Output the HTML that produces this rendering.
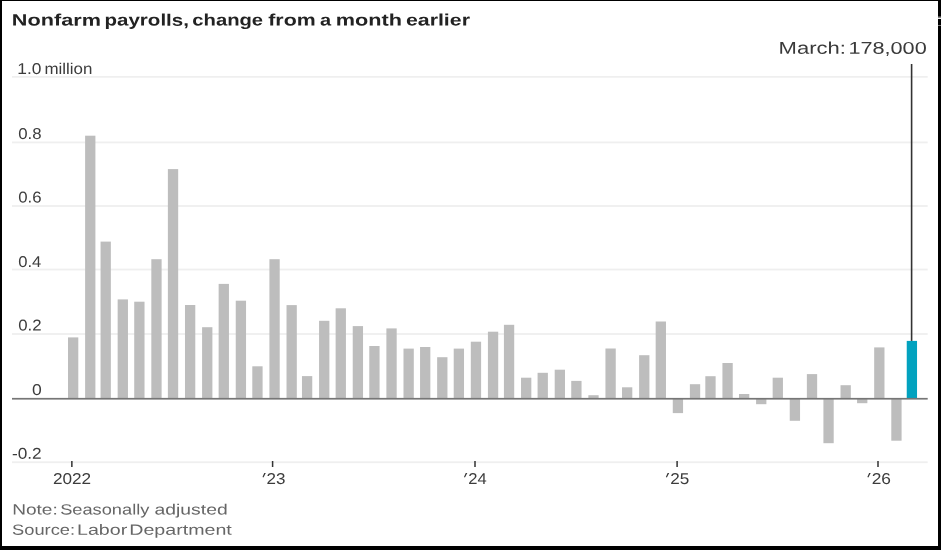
<!DOCTYPE html>
<html><head><meta charset="utf-8"><title>Nonfarm payrolls</title>
<style>
html,body{margin:0;padding:0;background:#fff;}
body{width:941px;height:550px;overflow:hidden;position:relative;font-family:"Liberation Sans",sans-serif;}
svg{position:absolute;left:0;top:0;display:block;}
.txt{will-change:transform;filter:blur(0.3px);}
text{font-family:"Liberation Sans",sans-serif;}
.ax{font-size:15.65px;fill:#3c3c3c;}
.ttl{font-size:16.5px;font-weight:bold;fill:#222;}
.ann{font-size:17px;fill:#3a3a3a;}
.fn{font-size:14.8px;fill:#666;}
</style></head>
<body>
<svg width="941" height="550" viewBox="0 0 941 550">
<rect x="0" y="0" width="941" height="550" fill="#fff"/>
<g style="filter:blur(0.3px)">
<!-- gridlines -->
<rect x="12" y="75.95" width="915.7" height="1.8" fill="#efefef"/>
<rect x="12" y="141.50" width="915.7" height="1.8" fill="#efefef"/>
<rect x="12" y="205.10" width="915.7" height="1.8" fill="#efefef"/>
<rect x="12" y="268.65" width="915.7" height="1.8" fill="#efefef"/>
<rect x="12" y="333.10" width="915.7" height="1.8" fill="#efefef"/>
<rect x="12" y="461.35" width="915.7" height="1.8" fill="#efefef"/>
<!-- bars -->
<rect x="68.00" y="337.40" width="10.3" height="61.30" fill="#bdbdbd"/>
<rect x="85.11" y="135.70" width="10.3" height="263.00" fill="#bdbdbd"/>
<rect x="100.56" y="241.60" width="10.3" height="157.10" fill="#bdbdbd"/>
<rect x="117.66" y="299.40" width="10.3" height="99.30" fill="#bdbdbd"/>
<rect x="134.22" y="301.70" width="10.3" height="97.00" fill="#bdbdbd"/>
<rect x="151.32" y="259.20" width="10.3" height="139.50" fill="#bdbdbd"/>
<rect x="167.88" y="169.10" width="10.3" height="229.60" fill="#bdbdbd"/>
<rect x="184.98" y="305.00" width="10.3" height="93.70" fill="#bdbdbd"/>
<rect x="202.09" y="327.20" width="10.3" height="71.50" fill="#bdbdbd"/>
<rect x="218.64" y="283.90" width="10.3" height="114.80" fill="#bdbdbd"/>
<rect x="235.75" y="300.70" width="10.3" height="98.00" fill="#bdbdbd"/>
<rect x="252.30" y="366.30" width="10.3" height="32.40" fill="#bdbdbd"/>
<rect x="269.41" y="259.20" width="10.3" height="139.50" fill="#bdbdbd"/>
<rect x="286.51" y="305.10" width="10.3" height="93.60" fill="#bdbdbd"/>
<rect x="301.96" y="376.10" width="10.3" height="22.60" fill="#bdbdbd"/>
<rect x="319.07" y="320.80" width="10.3" height="77.90" fill="#bdbdbd"/>
<rect x="335.62" y="308.30" width="10.3" height="90.40" fill="#bdbdbd"/>
<rect x="352.73" y="326.10" width="10.3" height="72.60" fill="#bdbdbd"/>
<rect x="369.28" y="346.00" width="10.3" height="52.70" fill="#bdbdbd"/>
<rect x="386.39" y="328.40" width="10.3" height="70.30" fill="#bdbdbd"/>
<rect x="403.49" y="348.60" width="10.3" height="50.10" fill="#bdbdbd"/>
<rect x="420.05" y="347.00" width="10.3" height="51.70" fill="#bdbdbd"/>
<rect x="437.15" y="357.20" width="10.3" height="41.50" fill="#bdbdbd"/>
<rect x="453.71" y="348.60" width="10.3" height="50.10" fill="#bdbdbd"/>
<rect x="470.81" y="341.70" width="10.3" height="57.00" fill="#bdbdbd"/>
<rect x="487.92" y="331.70" width="10.3" height="67.00" fill="#bdbdbd"/>
<rect x="503.92" y="324.80" width="10.3" height="73.90" fill="#bdbdbd"/>
<rect x="521.03" y="377.70" width="10.3" height="21.00" fill="#bdbdbd"/>
<rect x="537.58" y="372.80" width="10.3" height="25.90" fill="#bdbdbd"/>
<rect x="554.69" y="369.70" width="10.3" height="29.00" fill="#bdbdbd"/>
<rect x="571.24" y="380.90" width="10.3" height="17.80" fill="#bdbdbd"/>
<rect x="588.35" y="395.20" width="10.3" height="3.50" fill="#bdbdbd"/>
<rect x="605.45" y="348.50" width="10.3" height="50.20" fill="#bdbdbd"/>
<rect x="622.01" y="387.30" width="10.3" height="11.40" fill="#bdbdbd"/>
<rect x="639.11" y="355.20" width="10.3" height="43.50" fill="#bdbdbd"/>
<rect x="655.67" y="321.50" width="10.3" height="77.20" fill="#bdbdbd"/>
<rect x="672.77" y="398.70" width="10.3" height="14.40" fill="#bdbdbd"/>
<rect x="689.88" y="384.20" width="10.3" height="14.50" fill="#bdbdbd"/>
<rect x="705.33" y="376.20" width="10.3" height="22.50" fill="#bdbdbd"/>
<rect x="722.43" y="363.00" width="10.3" height="35.70" fill="#bdbdbd"/>
<rect x="738.99" y="394.00" width="10.3" height="4.70" fill="#bdbdbd"/>
<rect x="756.09" y="398.70" width="10.3" height="5.50" fill="#bdbdbd"/>
<rect x="772.65" y="377.70" width="10.3" height="21.00" fill="#bdbdbd"/>
<rect x="789.75" y="398.70" width="10.3" height="22.10" fill="#bdbdbd"/>
<rect x="806.86" y="374.10" width="10.3" height="24.60" fill="#bdbdbd"/>
<rect x="823.41" y="398.70" width="10.3" height="44.50" fill="#bdbdbd"/>
<rect x="840.52" y="385.20" width="10.3" height="13.50" fill="#bdbdbd"/>
<rect x="857.07" y="398.70" width="10.3" height="4.50" fill="#bdbdbd"/>
<rect x="874.18" y="347.40" width="10.3" height="51.30" fill="#bdbdbd"/>
<rect x="891.29" y="398.70" width="10.3" height="42.00" fill="#bdbdbd"/>
<rect x="906.74" y="340.90" width="10.3" height="57.80" fill="#02a2bf"/>
<!-- zero line -->
<rect x="12" y="397.9" width="915.7" height="1.7" fill="#767676"/>
<!-- annotation line -->
<rect x="910.8" y="64" width="1.6" height="276.9" fill="#333"/>
<!-- x ticks -->
<polygon fill="#333" points="264.25,473.00 265.80,473.00 263.45,477.40 262.50,477.00"/>
<polygon fill="#333" points="465.75,473.00 467.30,473.00 464.95,477.40 464.00,477.00"/>
<polygon fill="#333" points="667.65,473.00 669.20,473.00 666.85,477.40 665.90,477.00"/>
<polygon fill="#333" points="869.15,473.00 870.70,473.00 868.35,477.40 867.40,477.00"/>
<rect x="71.10" y="461" width="1.5" height="6" fill="#333"/>
<rect x="271.85" y="461" width="1.5" height="6" fill="#333"/>
<rect x="474.25" y="461" width="1.5" height="6" fill="#333"/>
<rect x="676.35" y="461" width="1.5" height="6" fill="#333"/>
<rect x="877.25" y="461" width="1.5" height="6" fill="#333"/>
</g>
<!-- frame -->
<rect x="0" y="0" width="941" height="1" fill="#000"/>
<rect x="0" y="0" width="2" height="550" fill="#000"/>
<rect x="938" y="0" width="3" height="550" fill="#000"/>
<rect x="0" y="546" width="941" height="4" fill="#000"/>
<!-- tiny artefacts in right border -->
<rect x="938" y="16.2" width="3" height="1.3" fill="#555"/>
<rect x="938" y="17.6" width="3" height="1.3" fill="#fff"/>
<rect x="938" y="25.1" width="3" height="0.7" fill="#aaa"/>
</svg>
<svg width="941" height="550" viewBox="0 0 941 550" class="txt">
<text x="11.89" y="25.6" textLength="89.05" lengthAdjust="spacingAndGlyphs" class="ttl" transform="rotate(0.03 11.89 25.6)">Nonfarm</text>
<text x="104.56" y="25.6" textLength="84.34" lengthAdjust="spacingAndGlyphs" class="ttl" transform="rotate(0.03 104.56 25.6)">payrolls,</text>
<text x="192.28" y="25.6" textLength="70.87" lengthAdjust="spacingAndGlyphs" class="ttl" transform="rotate(0.03 192.28 25.6)">change</text>
<text x="268.28" y="25.6" textLength="47.42" lengthAdjust="spacingAndGlyphs" class="ttl" transform="rotate(0.03 268.28 25.6)">from</text>
<text x="320.09" y="25.6" textLength="11.13" lengthAdjust="spacingAndGlyphs" class="ttl" transform="rotate(0.03 320.09 25.6)">a</text>
<text x="335.69" y="25.6" textLength="66.20" lengthAdjust="spacingAndGlyphs" class="ttl" transform="rotate(0.03 335.69 25.6)">month</text>
<text x="405.93" y="25.6" textLength="64.05" lengthAdjust="spacingAndGlyphs" class="ttl" transform="rotate(0.03 405.93 25.6)">earlier</text>
<text x="17.31" y="74.0" textLength="24.14" lengthAdjust="spacingAndGlyphs" class="ax" transform="rotate(0.03 17.31 74.0)">1.0</text>
<text x="44.42" y="74.0" textLength="47.95" lengthAdjust="spacingAndGlyphs" class="ax" transform="rotate(0.03 44.42 74.0)">million</text>
<text x="18.16" y="139.0" textLength="23.34" lengthAdjust="spacingAndGlyphs" class="ax" transform="rotate(0.03 18.16 139.0)">0.8</text>
<text x="18.16" y="202.6" textLength="23.34" lengthAdjust="spacingAndGlyphs" class="ax" transform="rotate(0.03 18.16 202.6)">0.6</text>
<text x="18.17" y="267.0" textLength="23.06" lengthAdjust="spacingAndGlyphs" class="ax" transform="rotate(0.03 18.17 267.0)">0.4</text>
<text x="18.16" y="330.6" textLength="23.34" lengthAdjust="spacingAndGlyphs" class="ax" transform="rotate(0.03 18.16 330.6)">0.2</text>
<text x="31.94" y="395.0" textLength="9.75" lengthAdjust="spacingAndGlyphs" class="ax" transform="rotate(0.03 31.94 395.0)">0</text>
<text x="11.97" y="458.7" textLength="29.70" lengthAdjust="spacingAndGlyphs" class="ax" transform="rotate(0.03 11.97 458.7)">-0.2</text>
<text x="52.98" y="484.1" textLength="38.20" lengthAdjust="spacingAndGlyphs" class="ax" transform="rotate(0.03 52.98 484.1)">2022</text>
<text x="266.58" y="484.1" textLength="18.93" lengthAdjust="spacingAndGlyphs" class="ax" transform="rotate(0.03 266.58 484.1)">23</text>
<text x="468.31" y="484.1" textLength="18.42" lengthAdjust="spacingAndGlyphs" class="ax" transform="rotate(0.03 468.31 484.1)">24</text>
<text x="670.18" y="484.1" textLength="19.04" lengthAdjust="spacingAndGlyphs" class="ax" transform="rotate(0.03 670.18 484.1)">25</text>
<text x="871.67" y="484.1" textLength="19.26" lengthAdjust="spacingAndGlyphs" class="ax" transform="rotate(0.03 871.67 484.1)">26</text>
<text x="778.56" y="53.7" textLength="67.35" lengthAdjust="spacingAndGlyphs" class="ann" transform="rotate(0.03 778.56 53.7)">March:</text>
<text x="848.41" y="53.7" textLength="78.29" lengthAdjust="spacingAndGlyphs" class="ann" transform="rotate(0.03 848.41 53.7)">178,000</text>
<text x="12.19" y="514.4" textLength="45.58" lengthAdjust="spacingAndGlyphs" class="fn" transform="rotate(0.03 12.19 514.4)">Note:</text>
<text x="60.18" y="514.4" textLength="89.20" lengthAdjust="spacingAndGlyphs" class="fn" transform="rotate(0.03 60.18 514.4)">Seasonally</text>
<text x="154.55" y="514.4" textLength="73.10" lengthAdjust="spacingAndGlyphs" class="fn" transform="rotate(0.03 154.55 514.4)">adjusted</text>
<text x="12.07" y="534.8" textLength="62.97" lengthAdjust="spacingAndGlyphs" class="fn" transform="rotate(0.03 12.07 534.8)">Source:</text>
<text x="77.04" y="534.8" textLength="50.20" lengthAdjust="spacingAndGlyphs" class="fn" transform="rotate(0.03 77.04 534.8)">Labor</text>
<text x="129.24" y="534.8" textLength="102.54" lengthAdjust="spacingAndGlyphs" class="fn" transform="rotate(0.03 129.24 534.8)">Department</text>
</svg>
</body></html>
